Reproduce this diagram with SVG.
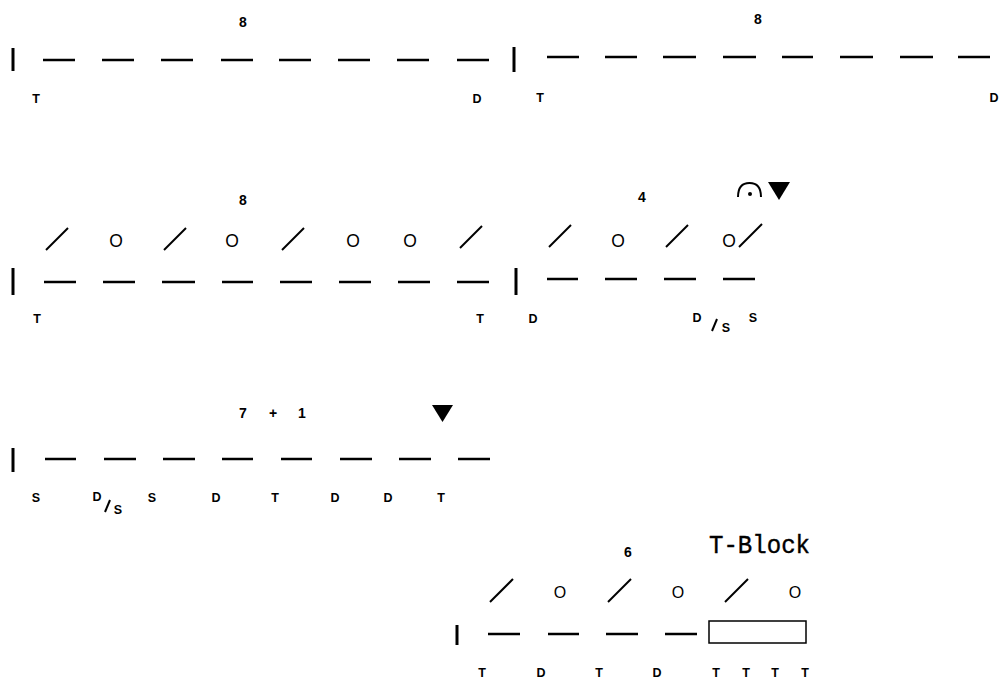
<svg xmlns="http://www.w3.org/2000/svg" width="1001" height="680" viewBox="0 0 1001 680">
<style>
.bar{stroke:#000;stroke-width:3;fill:none}
.dash{stroke:#000;stroke-width:2.5;fill:none}
.sl{stroke:#000;stroke-width:2;fill:none}
.lab{font-family:"Liberation Sans",Arial,sans-serif;font-weight:bold;font-size:12.5px;text-anchor:middle;fill:#000}
.num{font-family:"Liberation Sans",Arial,sans-serif;font-weight:bold;font-size:14px;text-anchor:middle;fill:#000}
.o{font-family:"Liberation Sans",Arial,sans-serif;font-size:17.5px;text-anchor:middle;fill:#000}
.big{font-family:"Liberation Mono","Courier New",monospace;font-size:26px;fill:#000;stroke:#000;stroke-width:0.4}
</style>
<rect width="1001" height="680" fill="#fff"/>
<g id="row1-left">
<line class="bar" x1="13" y1="48" x2="13" y2="71"/>
<g class="dash">
<line x1="43" y1="60" x2="75" y2="60"/><line x1="102" y1="60" x2="134" y2="60"/><line x1="161" y1="60" x2="193" y2="60"/><line x1="221" y1="60" x2="253" y2="60"/><line x1="279" y1="60" x2="311" y2="60"/><line x1="338" y1="60" x2="370" y2="60"/><line x1="397" y1="60" x2="429" y2="60"/><line x1="457" y1="60" x2="489" y2="60"/>
</g>
<line class="bar" x1="514" y1="47" x2="514" y2="72"/>
<text class="num" x="243" y="27">8</text>
<text class="lab" x="36" y="103">T</text>
<text class="lab" x="477" y="103">D</text>
</g>
<g id="row1-right">
<g class="dash">
<line x1="547" y1="57" x2="579" y2="57"/><line x1="605" y1="57" x2="637" y2="57"/><line x1="663" y1="57" x2="696" y2="57"/><line x1="723" y1="57" x2="756" y2="57"/><line x1="782" y1="57" x2="813" y2="57"/><line x1="840" y1="57" x2="873" y2="57"/><line x1="900" y1="57" x2="933" y2="57"/><line x1="958" y1="57" x2="990" y2="57"/>
</g>
<text class="num" x="758" y="24">8</text>
<text class="lab" x="540" y="102">T</text>
<text class="lab" x="994" y="102">D</text>
</g>
<g id="row2-left">
<line class="bar" x1="13" y1="268" x2="13" y2="295"/>
<g class="dash">
<line x1="44" y1="282" x2="76" y2="282"/><line x1="103" y1="282" x2="135" y2="282"/><line x1="162" y1="282" x2="195" y2="282"/><line x1="222" y1="282" x2="253" y2="282"/><line x1="280" y1="282" x2="312" y2="282"/><line x1="339" y1="282" x2="371" y2="282"/><line x1="398" y1="282" x2="430" y2="282"/><line x1="457" y1="282" x2="489" y2="282"/>
</g>
<line class="bar" x1="516" y1="268" x2="516" y2="295"/>
<g class="sl">
<line x1="46" y1="250" x2="68" y2="228"/><line x1="164" y1="250" x2="186" y2="228"/><line x1="282" y1="250" x2="304" y2="228"/><line x1="460" y1="248" x2="482" y2="226"/>
</g>
<text class="o" x="116" y="247">O</text>
<text class="o" x="232" y="247">O</text>
<text class="o" x="353" y="247">O</text>
<text class="o" x="410" y="247">O</text>
<text class="num" x="243" y="205">8</text>
<text class="lab" x="37" y="323">T</text>
<text class="lab" x="480" y="323">T</text>
</g>
<g id="row2-right">
<g class="dash">
<line x1="547" y1="279" x2="578" y2="279"/><line x1="605" y1="279" x2="637" y2="279"/><line x1="664" y1="279" x2="696" y2="279"/><line x1="723" y1="279" x2="755" y2="279"/>
</g>
<g class="sl">
<line x1="549" y1="247" x2="571" y2="225"/><line x1="666" y1="247" x2="688" y2="225"/><line x1="739" y1="247" x2="762" y2="224"/>
</g>
<text class="o" x="618" y="247">O</text>
<text class="o" x="729" y="247">O</text>
<text class="num" x="642" y="202">4</text>
<path d="M738,197 Q738,183 749.5,183 Q761,183 761,197" fill="none" stroke="#000" stroke-width="2"/>
<circle cx="750" cy="194" r="2" fill="#000"/>
<polygon points="768,182 790,182 779,200" fill="#000"/>
<text class="lab" x="533" y="323">D</text>
<text class="lab" x="697" y="322">D</text>
<line class="sl" x1="712" y1="331" x2="717" y2="319"/>
<text class="lab" x="726" y="332">S</text>
<text class="lab" x="753" y="322">S</text>
</g>
<g id="row3">
<line class="bar" x1="13" y1="448" x2="13" y2="472"/>
<g class="dash">
<line x1="45" y1="459" x2="76" y2="459"/><line x1="104" y1="459" x2="136" y2="459"/><line x1="163" y1="459" x2="195" y2="459"/><line x1="222" y1="459" x2="253" y2="459"/><line x1="281" y1="459" x2="312" y2="459"/><line x1="340" y1="459" x2="372" y2="459"/><line x1="399" y1="459" x2="431" y2="459"/><line x1="458" y1="459" x2="490" y2="459"/>
</g>
<text class="num" x="243" y="418">7</text>
<text class="num" x="273" y="418">+</text>
<text class="num" x="302" y="418">1</text>
<polygon points="432,405 453,405 442.5,422" fill="#000"/>
<text class="lab" x="36" y="502">S</text>
<text class="lab" x="97" y="501">D</text>
<line class="sl" x1="105" y1="512" x2="110" y2="500"/>
<text class="lab" x="118" y="514">S</text>
<text class="lab" x="152" y="502">S</text>
<text class="lab" x="216" y="502">D</text>
<text class="lab" x="275" y="502">T</text>
<text class="lab" x="335" y="502">D</text>
<text class="lab" x="388" y="502">D</text>
<text class="lab" x="441" y="502">T</text>
</g>
<g id="row4">
<line class="bar" x1="457" y1="625" x2="457" y2="645"/>
<g class="dash">
<line x1="488" y1="634" x2="520" y2="634"/><line x1="548" y1="634" x2="579" y2="634"/><line x1="606" y1="634" x2="638" y2="634"/><line x1="665" y1="634" x2="697" y2="634"/>
</g>
<rect x="709" y="621" width="97" height="22" fill="#fff" stroke="#000" stroke-width="1.5"/>
<g class="sl">
<line x1="490" y1="602" x2="513" y2="579"/><line x1="608" y1="602" x2="631" y2="579"/><line x1="725" y1="602" x2="748" y2="579"/>
</g>
<text class="o" x="560" y="598" style="font-size:16px">O</text>
<text class="o" x="678" y="598" style="font-size:16px">O</text>
<text class="o" x="795" y="598" style="font-size:16px">O</text>
<text class="num" x="628" y="557">6</text>
<text class="big" x="709" y="553" textLength="101" lengthAdjust="spacingAndGlyphs">T-Block</text>
<text class="lab" x="482" y="677">T</text>
<text class="lab" x="541" y="677">D</text>
<text class="lab" x="599" y="677">T</text>
<text class="lab" x="657" y="677">D</text>
<text class="lab" x="716" y="677">T</text>
<text class="lab" x="746" y="677">T</text>
<text class="lab" x="775" y="677">T</text>
<text class="lab" x="805" y="677">T</text>
</g>
</svg>
